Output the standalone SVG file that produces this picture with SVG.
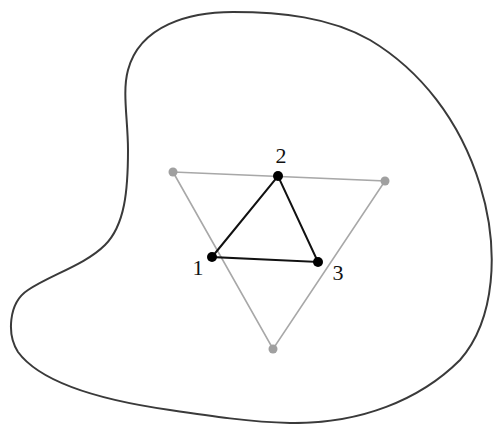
<svg xmlns="http://www.w3.org/2000/svg" width="497" height="424" viewBox="0 0 497 424">
<style>
.blob{fill:none;stroke:#3a3a3a;stroke-width:2}
.g{stroke:#a8a8a8;stroke-width:1.6;fill:none}
.k{stroke:#111;stroke-width:2;fill:none}
.gd{fill:#a0a0a0}
.kd{fill:#000}
.lbl{font-family:"Liberation Serif",serif;font-size:22px;fill:#111;text-anchor:middle}
</style>
<rect width="497" height="424" fill="#fff"/>
<path class="blob" d="M233,12 C190,12 140,25 128,70 C122,92 128,120 128,150 C128,190 125,225 105,245 C85,265 50,275 28,290 C8,303 7,335 18,352 C40,382 100,400 170,410 C210,416 250,422 290,423 C360,424 420,400 460,360 C495,320 500,250 480,185 C460,120 420,70 370,40 C330,17 280,12 233,12 Z"/>
<g id="connectors">
<polygon class="g" points="173,172 385,181 273,349"/>
<polygon class="k" points="212,257 278,176 318,262"/>
</g>
<g id="g1"><circle class="gd" cx="173" cy="172" r="4.5"/></g>
<g id="g2"><circle class="gd" cx="385" cy="181" r="4.5"/></g>
<g id="g3"><circle class="gd" cx="273" cy="349" r="4.5"/></g>
<g id="n1"><circle class="kd" cx="212" cy="257" r="5"/><text class="lbl" x="198" y="275">1</text></g>
<g id="n2"><circle class="kd" cx="278" cy="176" r="5"/><text class="lbl" x="281" y="163">2</text></g>
<g id="n3"><circle class="kd" cx="318" cy="262" r="5"/><text class="lbl" x="338" y="280">3</text></g>
</svg>
